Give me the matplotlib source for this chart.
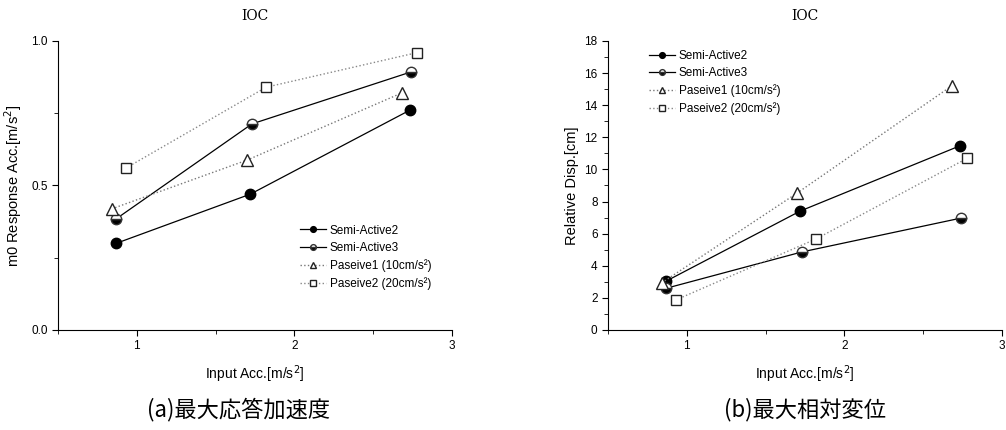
import matplotlib.pyplot as plt
from matplotlib.ticker import MultipleLocator

plt.rcParams['font.family'] = ['Liberation Sans', 'DejaVu Sans']

# Series labels
labels = ["Semi-Active2", "Semi-Active3",
          "Paseive1 (10cm/s²)", "Paseive2 (20cm/s²)"]

# Input acceleration (x) for each series
x_sa2 = [0.87, 1.72, 2.73]
x_sa3 = [0.87, 1.73, 2.74]
x_p1 = [0.84, 1.70, 2.68]
x_p2 = [0.93, 1.82, 2.78]

# (a) max response acceleration [m/s^2]
acc_sa2 = [0.30, 0.47, 0.76]
acc_sa3 = [0.385, 0.713, 0.893]
acc_p1 = [0.419, 0.588, 0.82]
acc_p2 = [0.56, 0.84, 0.96]

# (b) max relative displacement [cm]
disp_sa2 = [3.05, 7.41, 11.46]
disp_sa3 = [2.6, 4.86, 6.97]
disp_p1 = [2.93, 8.53, 15.2]
disp_p2 = [1.87, 5.67, 10.7]

captions = ["(a)最大応答加速度", "(b)最大相対変位"]

styles = [
    dict(color='black', ls='-', lw=0.9, marker='o', ms=7.5, mfc='black', mec='black'),
    dict(color='black', ls='-', lw=0.9, marker='o', ms=7.5, fillstyle='bottom',
         mfc='black', mfcalt='white', mec='#333333'),
    dict(color='#777777', ls=':', lw=1.0, marker='^', ms=8, mfc='white', mec='#222222'),
    dict(color='#888888', ls=':', lw=1.0, marker='s', ms=7.5, mfc='white', mec='#222222'),
]

fig = plt.figure(figsize=(10.06, 4.30), dpi=100)
ax1 = fig.add_axes([0.0577, 0.2326, 0.3917, 0.6721])
ax2 = fig.add_axes([0.6044, 0.2326, 0.3917, 0.6721])


def style_axes(ax):
    ax.spines['top'].set_visible(False)
    ax.spines['right'].set_visible(False)
    ax.set_xlim(0.5, 3.0)
    ax.xaxis.set_major_locator(MultipleLocator(1))
    ax.xaxis.set_minor_locator(MultipleLocator(0.5))
    ax.tick_params(direction='out', labelsize=8.5, length=4)
    ax.tick_params(which='minor', direction='out', length=3)
    ax.set_xlabel("Input Acc.[m/s$^2$]", fontsize=10, labelpad=8)
    ax.set_title("IOC", fontsize=10, family='DejaVu Serif', pad=15)


leg_kw = dict(loc='upper left', frameon=False, fontsize=8.5, handlelength=2.2,
              labelspacing=0.45, handletextpad=0.3, borderpad=0, markerscale=0.55)

# (a)
for xs, ys, lab, st in zip([x_sa2, x_sa3, x_p1, x_p2],
                           [acc_sa2, acc_sa3, acc_p1, acc_p2], labels, styles):
    ax1.plot(xs, ys, label=lab, **st)
style_axes(ax1)
ax1.set_ylim(0, 1.0)
ax1.yaxis.set_major_locator(MultipleLocator(0.5))
ax1.yaxis.set_minor_locator(MultipleLocator(0.25))
ax1.set_yticks([0.0, 0.5, 1.0], ['0.0', '0.5', '1.0'])
ax1.set_ylabel("m0 Response Acc.[m/s$^2$]", fontsize=10.5, labelpad=5)
ax1.legend(bbox_to_anchor=(0.60, 0.385), **leg_kw)

# (b)
for xs, ys, lab, st in zip([x_sa2, x_sa3, x_p1, x_p2],
                           [disp_sa2, disp_sa3, disp_p1, disp_p2], labels, styles):
    ax2.plot(xs, ys, label=lab, **st)
style_axes(ax2)
ax2.set_ylim(0, 18)
ax2.yaxis.set_major_locator(MultipleLocator(2))
ax2.yaxis.set_minor_locator(MultipleLocator(1))
ax2.set_ylabel("Relative Disp.[cm]", fontsize=10.5, labelpad=4)
ax2.legend(bbox_to_anchor=(0.09, 0.99), **leg_kw)

# captions
fig.text(0.237, 0.047, captions[0], ha='center', va='center', fontsize=16,
         family=['Noto Sans CJK JP', 'DejaVu Sans'])
fig.text(0.800, 0.047, captions[1], ha='center', va='center', fontsize=16,
         family=['Noto Sans CJK JP', 'DejaVu Sans'])

fig.savefig("out.png", dpi=100)
